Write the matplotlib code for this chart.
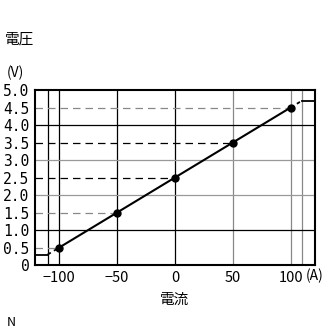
import numpy as np
import matplotlib.pyplot as plt

plt.rcParams['font.family'] = ['Noto Sans CJK JP', 'DejaVu Sans']

# data
current = [-100, -50, 0, 50, 100]
voltage = [0.5, 1.5, 2.5, 3.5, 4.5]
ext_x_left = [-121, -110, -100]
ext_y_left = [0.3, 0.3, 0.5]
ext_x_right = [100, 110, 121]
ext_y_right = [4.5, 4.7, 4.7]

xticks = [-100, -50, 0, 50, 100]
xticklabels = ['\u2212100', '\u221250', '0', '50', '100']
yticks = [0, 0.5, 1.0, 1.5, 2.0, 2.5, 3.0, 3.5, 4.0, 4.5, 5.0]
yticklabels = ['0', '0.5', '1.0', '1.5', '2.0', '2.5', '3.0', '3.5', '4.0', '4.5', '5.0']

fig = plt.figure(figsize=(3.32, 3.33), dpi=100)
ax = fig.add_axes([0.1054, 0.2042, 0.8434, 0.5255])
ax.set_xlim(-121, 121)
ax.set_ylim(0, 5)

# vertical grid
vlines = [(-110, 'black'), (-100, 'black'), (-50, 'black'), (0, 'black'),
          (50, '#888888'), (100, '#888888'), (110, '#888888')]
for xv, c in vlines:
    ax.axvline(xv, color=c, lw=0.9, zorder=1)
# horizontal full lines
for yv, c in [(1.0, 'black'), (2.0, '#999999'), (3.0, '#999999'), (4.0, 'black')]:
    ax.axhline(yv, color=c, lw=0.9, zorder=1)
# dashed lines to the points
dcol = ['#888888', '#888888', 'black', 'black', '#888888']
for xv, yv, c in zip(current, voltage, dcol):
    ax.plot([-121, xv], [yv, yv], color=c, lw=0.9, ls=(0, (6, 4)), zorder=1)

ax.plot(current, voltage, color='black', lw=1.5, marker='o', ms=5, zorder=3)
ax.plot(ext_x_left[:2], ext_y_left[:2], color='black', lw=1.3, zorder=3)
ax.plot(ext_x_left[1:], ext_y_left[1:], color='black', lw=1.3, ls=(0, (2, 2)), zorder=3)
ax.plot(ext_x_right[:2], ext_y_right[:2], color='black', lw=1.3, ls=(0, (2, 2)), zorder=3)
ax.plot(ext_x_right[1:], ext_y_right[1:], color='black', lw=1.3, zorder=3)

for s in ax.spines.values():
    s.set_color('black')
    s.set_linewidth(1.5)

ax.set_xticks(xticks)
ax.set_xticklabels(xticklabels, fontsize=10.5)
ax.set_yticks(yticks)
ax.set_yticklabels(yticklabels, fontsize=10.5, family='DejaVu Sans Mono')
ax.tick_params(length=0, pad=4)

fig.text(0.92, 0.17, '(A)', fontsize=10, va='center', ha='left')
fig.text(0.527, 0.10, '電流', fontsize=10.5, ha='center', va='center')
fig.text(0.015, 0.88, '電圧', fontsize=10.5, ha='left', va='center')
fig.text(0.02, 0.78, '(V)', fontsize=10, ha='left', va='center')
fig.text(0.02, 0.033, 'N', fontsize=9, ha='left', va='center')

fig.savefig('out.png', dpi=100)
